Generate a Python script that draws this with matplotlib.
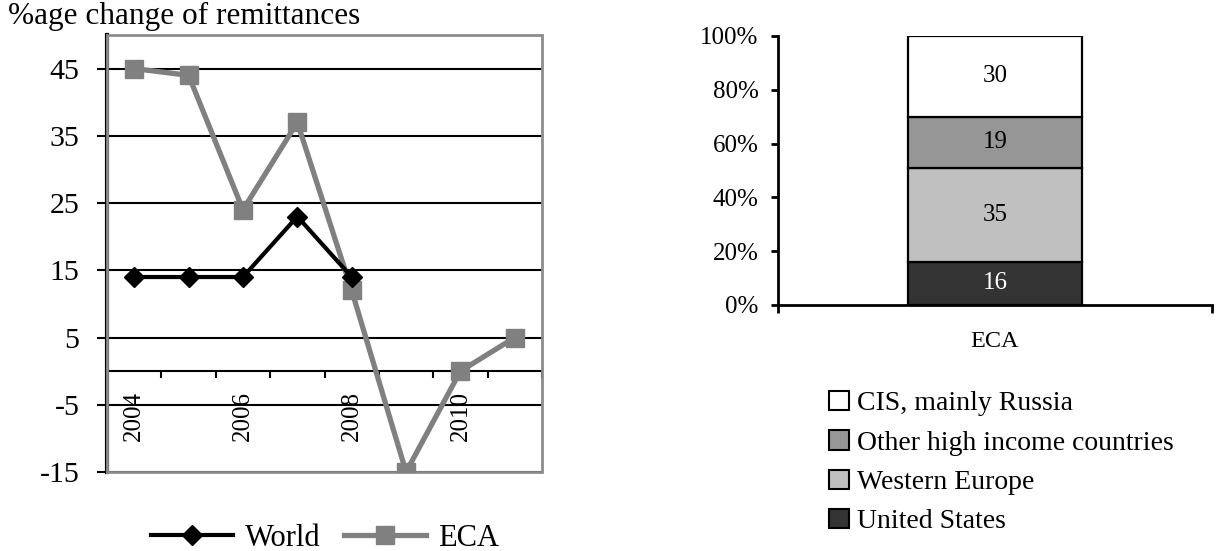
import matplotlib
matplotlib.use("Agg")
import matplotlib.pyplot as plt
from matplotlib.patches import Patch, Rectangle
import numpy as np

plt.rcParams['font.family'] = ['Liberation Serif', 'DejaVu Serif']
plt.rcParams['axes.unicode_minus'] = False

# Left panel: annual % change of remittances
years = [2004, 2005, 2006, 2007, 2008, 2009, 2010, 2011]
world = [14, 14, 14, 23, 14]
eca = [45, 44, 24, 37, 12, -15, 0, 5]
year_labels = ['2004', '2006', '2008', '2010']

# Right panel: source of remittances to ECA (%)
bar_category = ['ECA']
sources = ['United States', 'Western Europe', 'Other high income countries', 'CIS, mainly Russia']
shares = [16, 35, 19, 30]
source_colors = ['#333333', '#c0c0c0', '#969696', '#ffffff']
label_colors = ['white', 'black', 'black', 'black']

fig = plt.figure(figsize=(12.29, 5.51), dpi=100)

# ---------------- left panel ----------------
ax1 = fig.add_axes([0.0871, 0.1434, 0.3539, 0.7931])
pos = np.arange(len(years))
eca_line, = ax1.plot(pos, eca, color='#808080', lw=3.8, marker='s', ms=13,
                     markerfacecolor='#808080', markeredgecolor='#808080',
                     zorder=3, label='ECA')
world_line, = ax1.plot(pos[:len(world)], world, color='black', lw=3.0, marker='D',
                       ms=10.5, markerfacecolor='black', markeredgecolor='black',
                       zorder=4, label='World')

ax1.set_xlim(-0.5, len(years) - 0.5)
ax1.set_ylim(-15, 50)
ax1.set_yticks(np.arange(-15, 50, 10))
ax1.yaxis.grid(True, color='black', lw=1.5)
ax1.set_axisbelow(True)

for s in ['top', 'right']:
    ax1.spines[s].set_visible(False)
ax1.spines['left'].set_color('black')
ax1.spines['left'].set_linewidth(3)
ax1.spines['bottom'].set_position(('data', 0))
ax1.spines['bottom'].set_color('black')
ax1.spines['bottom'].set_linewidth(1.5)
ax1.spines['bottom'].set_zorder(2.5)

# plot-area border
ax1.add_patch(Rectangle((0, 0), 1, 1, transform=ax1.transAxes, fill=False,
                        edgecolor='#8c8c8c', lw=2, zorder=2.6, clip_on=False))

ax1.set_xticks(np.arange(-0.5, len(years), 1))
ax1.set_xticklabels([])
ax1.set_xticks([years.index(int(y)) for y in year_labels], minor=True)
ax1.set_xticklabels(year_labels, minor=True, rotation=90)
ax1.tick_params(axis='x', which='major', direction='out', length=5, width=1.5)
ax1.tick_params(axis='x', which='minor', length=0, pad=14, labelsize=18)
ax1.tick_params(axis='y', direction='out', length=7, width=1.5, pad=13, labelsize=21.5)

fig.text(0.0065, 1 - 2 / 551, '%age change of remittances', fontsize=22.5,
         ha='left', va='top')

fig.legend(handles=[world_line, eca_line], labels=['World', 'ECA'], loc='center',
           bbox_to_anchor=(325 / 1229, 1 - 538 / 551), ncol=2, frameon=False,
           fontsize=22, handlelength=2.7, handletextpad=0.4, columnspacing=0.75,
           borderpad=0, borderaxespad=0)

# ---------------- right panel ----------------
ax2 = fig.add_axes([0.633, 0.4465, 0.3531, 0.4882])
bottom = 0
for name, val, col, lcol in zip(sources, shares, source_colors, label_colors):
    bars = ax2.bar(bar_category, [val], bottom=bottom, width=0.4, color=col,
                   edgecolor='black', lw=1.6, label=name, zorder=3)
    ax2.bar_label(bars, labels=[str(val)], label_type='center', fontsize=18,
                  color=lcol)
    bottom += val

ax2.set_xlim(-0.5, 0.5)
ax2.set_ylim(0, 100)
ax2.set_yticks(np.arange(0, 101, 20))
ax2.set_yticklabels([f'{v}%' for v in range(0, 101, 20)])
for s in ['top', 'right']:
    ax2.spines[s].set_visible(False)
for s in ['left', 'bottom']:
    ax2.spines[s].set_color('black')
    ax2.spines[s].set_linewidth(2)
ax2.set_xticks([-0.5, 0.5], minor=True)
ax2.tick_params(axis='x', which='minor', direction='out', length=6, width=2)
ax2.tick_params(axis='x', which='major', length=0, pad=19, labelsize=17.5)
ax2.tick_params(axis='y', direction='out', length=5, width=2, pad=9, labelsize=18)

handles = [Patch(facecolor=c, edgecolor='black', lw=1.5) for c in source_colors]
fig.legend(handles[::-1], sources[::-1], loc='upper left',
           bbox_to_anchor=(829 / 1229, 1 - 391 / 551), frameon=False, fontsize=20,
           handlelength=0.72, handleheight=0.7, handletextpad=0.3,
           labelspacing=0.5, borderpad=0, borderaxespad=0)

fig.savefig('out.png', dpi=100)
